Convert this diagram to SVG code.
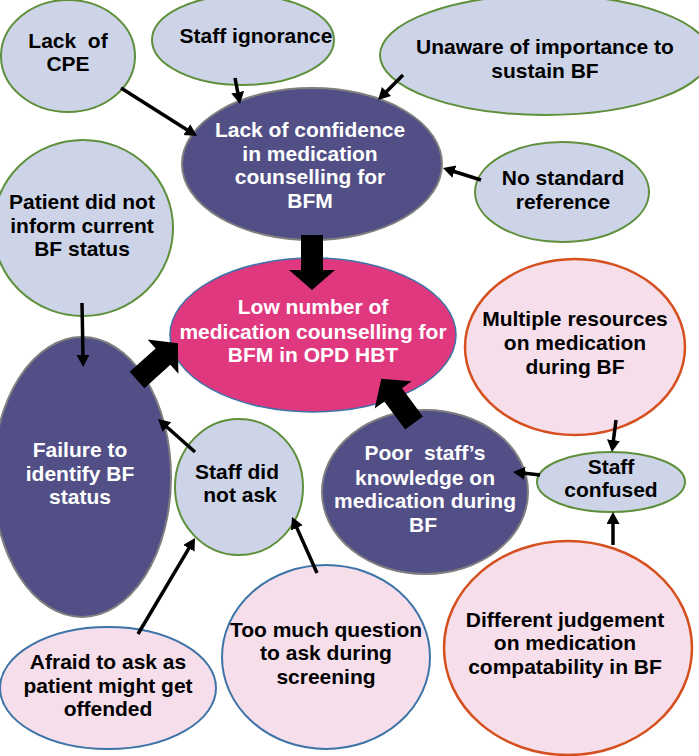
<svg xmlns="http://www.w3.org/2000/svg" xmlns:xlink="http://www.w3.org/1999/xlink" width="699" height="756" viewBox="0 0 699 756">
<style>
text{font-family:"Liberation Sans",Arial,sans-serif;font-weight:bold;font-size:21px;text-anchor:middle;white-space:pre;}
.lb{fill:#CDD4E8;stroke:#5E8F3A;stroke-width:2;}
.dk{fill:#524F87;stroke:#7F7F7F;stroke-width:2;}
.pk{fill:#E0387F;stroke:#3D74A8;stroke-width:1.5;}
.lpb{fill:#F6DEEA;stroke:#3D74A8;stroke-width:2;}
.lpo{fill:#F6DEEA;stroke:#D5501E;stroke-width:2.5;}
.dt{fill:#000;}
.wt{fill:#fff;}
.ar{stroke:#000;stroke-width:3.5;fill:none;marker-end:url(#ah);}
</style>
<defs>
<marker id="ah" markerUnits="userSpaceOnUse" markerWidth="14" markerHeight="14" refX="2" refY="6.5" orient="auto" viewBox="0 0 14 14">
<path d="M0,0 L12,6.5 L0,13 z" fill="#000"/>
</marker>
<polygon id="blk" points="0,-11 35,-11 35,-23 55,0 35,23 35,11 0,11" fill="#000"/>
</defs>
<rect width="699" height="756" fill="#fff"/>

<g id="n-cpe"><ellipse class="lb" cx="68" cy="56" rx="67" ry="56"/>
<text class="dt" x="68" y="48" xml:space="preserve">Lack  of</text><text class="dt" x="68" y="71">CPE</text></g>

<g id="n-ignorance"><ellipse class="lb" cx="243" cy="40" rx="91" ry="45"/>
<text class="dt" x="256" y="43">Staff ignorance</text></g>

<g id="n-unaware"><ellipse class="lb" cx="545" cy="55" rx="165" ry="60"/>
<text class="dt" x="545" y="54">Unaware of importance to</text><text class="dt" x="545" y="78">sustain BF</text></g>

<g id="n-confidence"><ellipse class="dk" cx="312" cy="164" rx="130" ry="76"/>
<text class="wt" x="310" y="137">Lack of confidence</text><text class="wt" x="310" y="161">in medication</text><text class="wt" x="310" y="184">counselling for</text><text class="wt" x="310" y="208">BFM</text></g>

<g id="n-nostandard"><ellipse class="lb" cx="562" cy="192" rx="87" ry="50"/>
<text class="dt" x="563" y="185">No standard</text><text class="dt" x="563" y="209">reference</text></g>

<g id="n-patient"><ellipse class="lb" cx="83" cy="228" rx="90" ry="88"/>
<text class="dt" x="82" y="209">Patient did not</text><text class="dt" x="82" y="233">inform current</text><text class="dt" x="82" y="256">BF status</text></g>

<g id="n-low"><ellipse class="pk" cx="313" cy="335" rx="143" ry="77"/>
<text class="wt" x="313" y="314">Low number of</text><text class="wt" x="313" y="339">medication counselling for</text><text class="wt" x="313" y="362">BFM in OPD HBT</text></g>

<g id="n-failure"><ellipse class="dk" cx="82" cy="477" rx="89" ry="140"/>
<text class="wt" x="80" y="457">Failure to</text><text class="wt" x="80" y="481">identify BF</text><text class="wt" x="80" y="504">status</text></g>

<g id="n-didnotask"><ellipse class="lb" cx="239" cy="487" rx="64" ry="68"/>
<text class="dt" x="237" y="479">Staff did</text><text class="dt" x="240" y="502">not ask</text></g>

<g id="n-poor"><ellipse class="dk" cx="425" cy="492" rx="103" ry="82"/>
<text class="wt" x="425" y="460" xml:space="preserve">Poor  staff’s</text><text class="wt" x="425" y="485">knowledge on</text><text class="wt" x="425" y="508">medication during</text><text class="wt" x="423" y="532">BF</text></g>

<g id="n-multiple"><ellipse class="lpo" cx="575" cy="347" rx="110" ry="88"/>
<text class="dt" x="575" y="326">Multiple resources</text><text class="dt" x="575" y="350">on medication</text><text class="dt" x="575" y="374">during BF</text></g>

<g id="n-confused"><ellipse class="lb" cx="611" cy="482" rx="74" ry="30"/>
<text class="dt" x="611" y="474">Staff</text><text class="dt" x="611" y="497">confused</text></g>

<g id="n-different"><ellipse class="lpo" cx="568" cy="648" rx="124" ry="107"/>
<text class="dt" x="565" y="627">Different judgement</text><text class="dt" x="565" y="650">on medication</text><text class="dt" x="565" y="674">compatability in BF</text></g>

<g id="n-afraid"><ellipse class="lpb" cx="108" cy="688" rx="108" ry="61"/>
<text class="dt" x="108" y="669">Afraid to ask as</text><text class="dt" x="108" y="693">patient might get</text><text class="dt" x="108" y="716">offended</text></g>

<g id="n-toomuch"><ellipse class="lpb" cx="326" cy="657" rx="104" ry="92"/>
<text class="dt" x="326" y="637">Too much question</text><text class="dt" x="326" y="660">to ask during</text><text class="dt" x="326" y="684">screening</text></g>

<g id="connectors">
<line class="ar" x1="121" y1="88" x2="188.5" y2="130.7"/>
<line class="ar" x1="235" y1="78" x2="238.1" y2="94.2"/>
<line class="ar" x1="403" y1="75" x2="385.1" y2="92.9"/>
<line class="ar" x1="481" y1="180" x2="452.5" y2="171"/>
<line class="ar" x1="82" y1="303" x2="83" y2="357"/>
<line class="ar" x1="195" y1="452" x2="165.5" y2="425.7"/>
<line class="ar" x1="138" y1="634" x2="189.9" y2="546.6"/>
<line class="ar" x1="317" y1="573" x2="296.1" y2="526.1"/>
<line class="ar" x1="616" y1="420" x2="613.2" y2="442.1"/>
<line class="ar" x1="540" y1="475" x2="522.9" y2="473.1"/>
<line class="ar" x1="613" y1="545" x2="613" y2="522"/>
<use xlink:href="#blk" transform="translate(312,235) rotate(90)"/>
<use xlink:href="#blk" transform="translate(137,380) rotate(-42)"/>
<use xlink:href="#blk" transform="translate(414,423) rotate(-126.5)"/>
</g>
</svg>
